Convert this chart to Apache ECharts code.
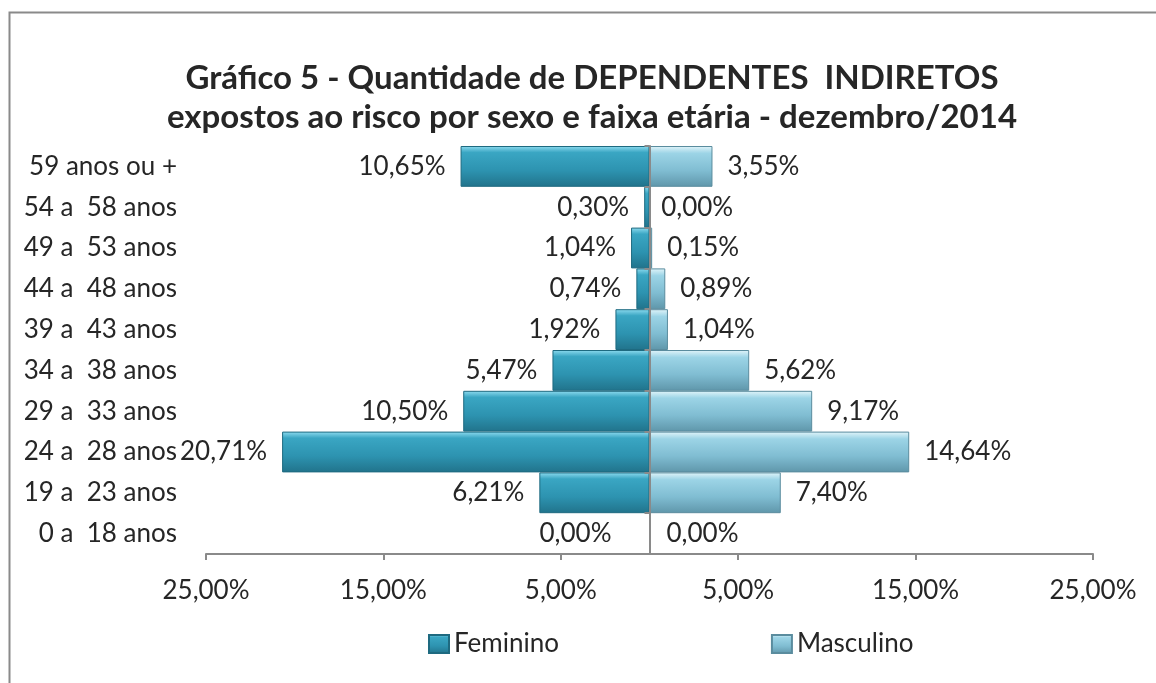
<!DOCTYPE html>
<html>
<head>
<meta charset="utf-8">
<style>
  html, body { margin: 0; padding: 0; background: #fff; }
  #chart { width: 1156px; height: 683px; }
</style>
<script src="https://cdn.jsdelivr.net/npm/echarts@6/dist/echarts.min.js"></script>
</head>
<body>
<div id="chart"></div>
<script>
// faixas etarias, de baixo para cima
const categorias = [
  '0 a  18 anos',
  '19 a  23 anos',
  '24 a  28 anos',
  '29 a  33 anos',
  '34 a  38 anos',
  '39 a  43 anos',
  '44 a  48 anos',
  '49 a  53 anos',
  '54 a  58 anos',
  '59 anos ou +',
]
const feminino = [0.00, 6.21, 20.71, 10.50, 5.47, 1.92, 0.74, 1.04, 0.30, 10.65]
const masculino = [0.00, 7.40, 14.64, 9.17, 5.62, 1.04, 0.89, 0.15, 0.00, 3.55]

const FONT = 'Lato'
const TXT = '#262626'
const AXIS = '#8a8a8a'

// grid em pixels
const GRID_LEFT = 206
const GRID_RIGHT = 63
const HALF = (1156 - GRID_LEFT - GRID_RIGHT) / 2

const pct = (v) => Math.abs(v).toFixed(2).replace('.', ',') + '%'

const gradFem = new echarts.graphic.LinearGradient(0, 0, 0, 1, [
  { offset: 0, color: '#8fdcf0' },
  { offset: 0.16, color: '#3aa6c3' },
  { offset: 0.6, color: '#2d93b0' },
  { offset: 1, color: '#21738b' },
])
const gradMasc = new echarts.graphic.LinearGradient(0, 0, 0, 1, [
  { offset: 0, color: '#e2f5fa' },
  { offset: 0.18, color: '#9cd4e6' },
  { offset: 0.6, color: '#80bdd2' },
  { offset: 1, color: '#5f96aa' },
])

const toItems = (arr, sign, zeroDistance) =>
  arr.map((v) => ({
    value: sign * v,
    itemStyle: v === 0 ? { borderWidth: 0 } : undefined,
    label: v === 0 ? { distance: zeroDistance } : undefined,
  }))

const chart = echarts.init(document.getElementById('chart'))

const option = {
  backgroundColor: '#fff',
  animation: false,
  textStyle: { fontFamily: FONT },
  graphic: [
    {
      type: 'rect',
      left: 7,
      top: 10,
      shape: { width: 1200, height: 720 },
      style: { fill: 'none', stroke: AXIS, lineWidth: 2 },
      silent: true,
    },
  ],
  title: {
    text: 'Gráfico 5 - Quantidade de DEPENDENTES  INDIRETOS\nexpostos ao risco por sexo e faixa etária - dezembro/2014',
    left: 587,
    top: 54,
    textAlign: 'center',
    textStyle: {
      fontFamily: FONT,
      fontSize: 33,
      fontWeight: 'bold',
      color: TXT,
      lineHeight: 39,
    },
  },
  legend: {
    left: 423,
    top: 626,
    itemWidth: 20,
    itemHeight: 18,
    itemGap: 212,
    icon: 'rect',
    textStyle: { fontFamily: FONT, fontSize: 26, color: TXT },
    data: ['Feminino', 'Masculino'],
  },
  grid: {
    left: GRID_LEFT,
    right: GRID_RIGHT,
    top: 146,
    bottom: 129,
  },
  xAxis: {
    type: 'value',
    min: -25,
    max: 25,
    interval: 10,
    axisLine: { show: true, lineStyle: { color: AXIS, width: 2 } },
    axisTick: { show: true, length: 6, lineStyle: { color: AXIS, width: 2 } },
    splitLine: { show: false },
    axisLabel: {
      margin: 24,
      fontFamily: FONT,
      fontSize: 26,
      color: TXT,
      formatter: pct,
    },
  },
  yAxis: [
    {
      type: 'category',
      data: categorias,
      position: 'left',
      axisLine: { show: false, onZero: false },
      axisTick: { show: false },
      axisLabel: {
        margin: 29,
        fontFamily: FONT,
        fontSize: 26,
        color: TXT,
      },
    },
    {
      // eixo central (no zero)
      type: 'category',
      data: categorias,
      position: 'left',
      offset: -HALF,
      axisLine: { show: true, onZero: false, lineStyle: { color: AXIS, width: 2 } },
      axisTick: { show: true, length: 5, lineStyle: { color: AXIS, width: 2 } },
      axisLabel: { show: false },
      z: 10,
    },
  ],
  series: [
    {
      name: 'Feminino',
      type: 'bar',
      stack: 'piramide',
      barCategoryGap: '0%',
      data: toItems(feminino, -1, 38),
      itemStyle: { color: gradFem, borderColor: '#1e6a80', borderWidth: 1 },
      label: {
        show: true,
        position: 'left',
        distance: 15,
        fontFamily: FONT,
        fontSize: 26,
        color: TXT,
        formatter: (p) => pct(p.value),
      },
    },
    {
      name: 'Masculino',
      type: 'bar',
      stack: 'piramide',
      barCategoryGap: '0%',
      data: toItems(masculino, 1, 17),
      itemStyle: { color: gradMasc, borderColor: '#5a8c9e', borderWidth: 1 },
      label: {
        show: true,
        position: 'right',
        distance: 15,
        fontFamily: FONT,
        fontSize: 26,
        color: TXT,
        formatter: (p) => pct(p.value),
      },
    },
  ],
}

chart.setOption(option)
</script>
</body>
</html>
